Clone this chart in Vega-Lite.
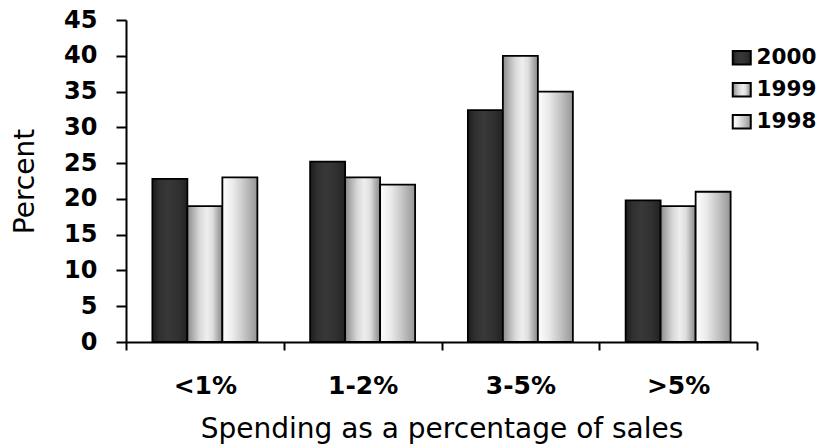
{
  "$schema": "https://vega.github.io/schema/vega-lite/v6.json",
  "width": 631,
  "height": 322,
  "autosize": "none",
  "padding": {"left": 126, "top": 20, "right": 68, "bottom": 106},
  "background": "white",
  "config": {
    "view": {"stroke": null},
    "font": "DejaVu Sans"
  },
  "data": {
    "values": [
      {"range": "<1%", "year": "2000", "percent": 22.8},
      {"range": "<1%", "year": "1999", "percent": 19},
      {"range": "<1%", "year": "1998", "percent": 23},
      {"range": "1-2%", "year": "2000", "percent": 25.2},
      {"range": "1-2%", "year": "1999", "percent": 23},
      {"range": "1-2%", "year": "1998", "percent": 22},
      {"range": "3-5%", "year": "2000", "percent": 32.4},
      {"range": "3-5%", "year": "1999", "percent": 40},
      {"range": "3-5%", "year": "1998", "percent": 35},
      {"range": ">5%", "year": "2000", "percent": 19.8},
      {"range": ">5%", "year": "1999", "percent": 19},
      {"range": ">5%", "year": "1998", "percent": 21}
    ]
  },
  "mark": {
    "type": "bar",
    "strokeWidth": 1.8,
    "fill": {"expr": "(datum.year || datum.value || datum.label) == '2000' ? {gradient: 'linear', x1: 0, y1: 0, x2: 1, y2: 0, stops: [{offset: 0, color: '#1c1c1c'}, {offset: 0.2, color: '#303030'}, {offset: 0.45, color: '#383838'}, {offset: 0.75, color: '#303030'}, {offset: 1, color: '#222222'}]} : (datum.year || datum.value || datum.label) == '1999' ? {gradient: 'linear', x1: 0, y1: 0, x2: 1, y2: 0, stops: [{offset: 0, color: '#8a8a8a'}, {offset: 0.18, color: '#b4b4b4'}, {offset: 0.35, color: '#d8d8d8'}, {offset: 0.55, color: '#eeeeee'}, {offset: 0.72, color: '#dedede'}, {offset: 0.88, color: '#ababab'}, {offset: 1, color: '#8a8a8a'}]} : {gradient: 'linear', x1: 0, y1: 0, x2: 1, y2: 0, stops: [{offset: 0, color: '#fdfdfd'}, {offset: 0.3, color: '#ebebeb'}, {offset: 0.6, color: '#c8c8c8'}, {offset: 0.85, color: '#a9a9a9'}, {offset: 1, color: '#959595'}]}"}
  },
  "encoding": {
    "x": {
      "field": "range",
      "type": "nominal",
      "sort": ["<1%", "1-2%", "3-5%", ">5%"],
      "scale": {"paddingInner": 0, "paddingOuter": 0},
      "axis": {
        "title": "Spending as a percentage of sales",
        "labelAngle": 0,
        "labelFont": "DejaVu Sans",
        "labelFontSize": 25,
        "labelFontWeight": "bold",
        "labelColor": "black",
        "labelBaseline": "alphabetic",
        "labelPadding": 43,
        "tickBand": "extent",
        "tickSize": 8,
        "tickWidth": 2,
        "tickColor": "black",
        "domainColor": "black",
        "domainWidth": 2,
        "titleFont": "DejaVu Sans",
        "titleFontSize": 28,
        "titleFontWeight": "normal",
        "titleColor": "black",
        "titleBaseline": "alphabetic",
        "titleY": 95
      }
    },
    "xOffset": {
      "field": "year",
      "type": "nominal",
      "sort": ["2000", "1999", "1998"],
      "scale": {"paddingInner": 0, "paddingOuter": 0.754}
    },
    "y": {
      "field": "percent",
      "type": "quantitative",
      "scale": {"domain": [0, 45], "nice": false},
      "axis": {
        "title": "Percent",
        "values": [0, 5, 10, 15, 20, 25, 30, 35, 40, 45],
        "grid": false,
        "labelFont": "DejaVu Sans",
        "labelFontSize": 24,
        "labelFontWeight": "bold",
        "labelColor": "black",
        "labelPadding": 19,
        "tickSize": 10,
        "tickWidth": 2,
        "tickColor": "black",
        "domainColor": "black",
        "domainWidth": 2,
        "titleFont": "DejaVu Sans",
        "titleFontSize": 28,
        "titleFontWeight": "normal",
        "titleColor": "black",
        "titleBaseline": "alphabetic",
        "titleX": -93,
        "titleY": 161
      }
    },
    "stroke": {
      "field": "year",
      "type": "nominal",
      "sort": ["2000", "1999", "1998"],
      "scale": {"domain": ["2000", "1999", "1998"], "range": ["black", "black", "black"]},
      "legend": {
        "title": null,
        "orient": "none",
        "legendX": 605,
        "legendY": 27,
        "padding": 0,
        "symbolType": "M-1,-0.75H1V0.75H-1Z",
        "symbolSize": 324,
        "symbolStrokeWidth": 2,
        "symbolStrokeColor": "black",
        "labelFont": "DejaVu Sans",
        "labelFontSize": 21.5,
        "labelFontWeight": "bold",
        "labelColor": "black",
        "labelOffset": 4,
        "rowPadding": 9
      }
    }
  }
}
